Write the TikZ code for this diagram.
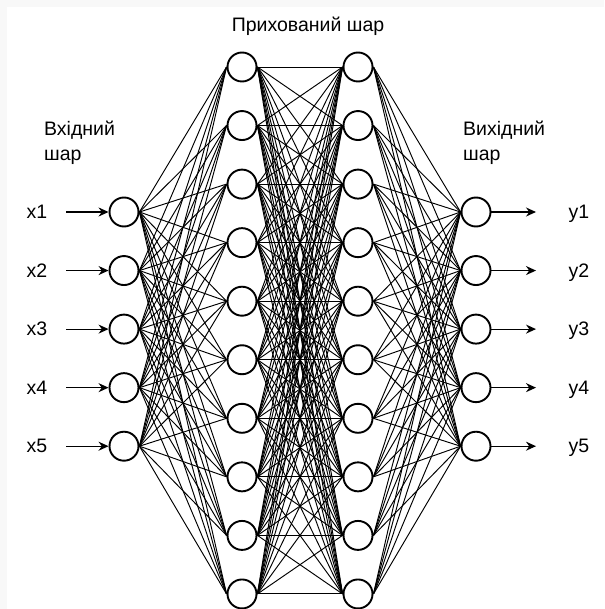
\documentclass[tikz,border=0pt]{standalone}
\usepackage{fontspec}
\setmainfont{Liberation Sans}
\usetikzlibrary{arrows.meta}
\definecolor{bgrey}{RGB}{248,248,248}
\begin{document}
\begin{tikzpicture}[x=1pt,y=-1pt,
  neuron/.style={circle,draw,line width=1.9pt,minimum size=29pt,inner sep=0pt},
  link/.style={line width=0.95pt},
  arr/.style={line width=1.1pt,-{Stealth[length=10pt,width=9pt]}},
  lbl/.style={font=\fontsize{19.5}{25}\selectfont,inner sep=0pt}]
\fill[bgrey] (0,0) rectangle (604,609);
\fill[white] (7,7) rectangle (604,609);
\useasboundingbox (0,0) rectangle (604,609);
% layers
\foreach \i in {1,...,5} {
  \node[neuron] (in\i) at (124,{212+58.55*(\i-1)}) {};
  \node[neuron] (out\i) at (476,{212+58.55*(\i-1)}) {};
}
\foreach \i in {1,...,10} {
  \node[neuron] (ha\i) at (242,{67+58.55*(\i-1)}) {};
  \node[neuron] (hb\i) at (358,{67+58.55*(\i-1)}) {};
}
% connections
\foreach \i in {1,...,5}
  \foreach \j in {1,...,10} {
    \draw[link] (in\i.east) -- (ha\j.west);
    \draw[link] (hb\j.east) -- (out\i.west);
  }
\foreach \i in {1,...,10}
  \foreach \j in {1,...,10}
    \draw[link] (ha\i.east) -- (hb\j.west);
% inputs and outputs
\foreach \i in {1,...,5} {
  \node[lbl,anchor=base] (xl\i) at (37,{212+58.55*(\i-1)+6.5}) {x\i};
  \coordinate (xs\i) at (66,{212+58.55*(\i-1)});
  \draw[arr] (xs\i) -- (in\i.west);
  \node[lbl,anchor=base] (yl\i) at (579,{212+58.55*(\i-1)+6.5}) {y\i};
  \coordinate (ye\i) at (536,{212+58.55*(\i-1)});
  \draw[arr] (out\i.east) -- (ye\i);
}
% layer titles
\node[lbl,anchor=base] (ttl) at (308,32) {Прихований шар};
\node[lbl,anchor=north west,align=left] (tin) at (44,121) {Вхідний\\шар};
\node[lbl,anchor=north west,align=left] (tout) at (463,121) {Вихідний\\шар};
\end{tikzpicture}
\end{document}
